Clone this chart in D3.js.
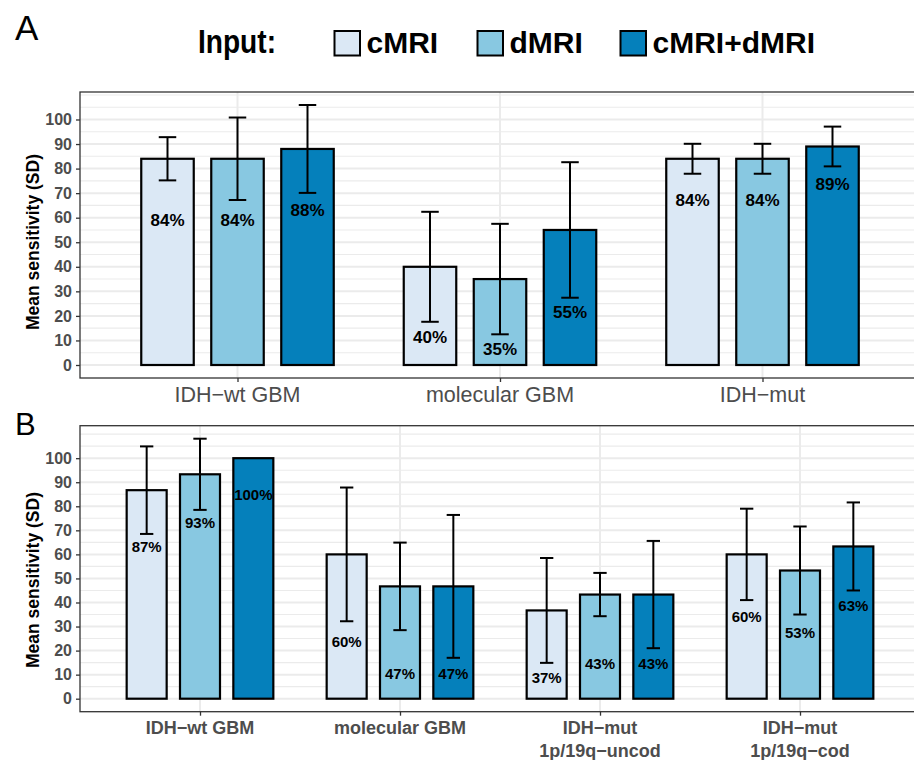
<!DOCTYPE html>
<html><head><meta charset="utf-8">
<script src="https://cdn.jsdelivr.net/npm/d3@7"></script>
<style>body{margin:0;background:#fff}svg{display:block}</style>
</head><body>
<script>
// ---------- data ----------
const inputs = ["cMRI", "dMRI", "cMRI+dMRI"];
const colors = ["#dbe8f5", "#88c8e1", "#0580bb"];

const groupsA = [["IDH−wt GBM"], ["molecular GBM"], ["IDH−mut"]];
const meanA_cMRI = [84, 40, 84];
const meanA_dMRI = [84, 35, 84];
const meanA_both = [88, 55, 89];
const sdA_cMRI = [8.8, 22.4, 6.1];
const sdA_dMRI = [16.8, 22.5, 6.1];
const sdA_both = [17.9, 27.6, 8.1];
const labelA_cMRI = [59, 11.3, 67.3];
const labelA_dMRI = [59, 6.4, 67.3];
const labelA_both = [63.2, 21.7, 73.7];

const groupsB = [["IDH−wt GBM"], ["molecular GBM"], ["IDH−mut", "1p/19q−uncod"], ["IDH−mut", "1p/19q−cod"]];
const meanB_cMRI = [86.7, 60, 36.7, 60];
const meanB_dMRI = [93.3, 46.7, 43.3, 53.3];
const meanB_both = [100, 46.7, 43.3, 63.3];
const sdB_cMRI = [18.2, 27.8, 21.8, 19.0];
const sdB_dMRI = [14.8, 18.2, 9.0, 18.3];
const sdB_both = [0, 29.7, 22.3, 18.3];
const labelB_cMRI = [63.3, 23.8, 8.6, 34.2];
const labelB_dMRI = [73.2, 10.4, 14.8, 27.5];
const labelB_both = [84.8, 10.4, 14.8, 38.8];

const yTicks = [0, 10, 20, 30, 40, 50, 60, 70, 80, 90, 100];
const yMinor = [5, 15, 25, 35, 45, 55, 65, 75, 85, 95, 105, 110];

// ---------- drawing ----------
const W = 914, H = 760;
const svg = d3.select("body").append("svg").attr("width", W).attr("height", H)
  .style("font-family", "'Liberation Sans', Arial, sans-serif");
svg.append("rect").attr("width", W).attr("height", H).attr("fill", "#fff");

function panel(cfg) {
  const {groups, means, sds, labels, top, bottom, left, right, labelSize, xFont, xWeight, xBase, xLine, letter, letterY, letterSize, titleY} = cfg;
  const n = groups.length;
  const maxV = d3.max(means.flatMap((m, s) => m.map((v, i) => v + sds[s][i])));
  const y = d3.scaleLinear().domain([-0.05 * maxV, maxV * 1.05]).range([bottom, top]);
  const x = d3.scaleLinear().domain([0.4, n + 0.6]).range([left, right]);
  const g = svg.append("g");

  // grid
  g.selectAll(".minor").data(yMinor.filter(v => v < y.domain()[1])).join("line")
    .attr("x1", left).attr("x2", right).attr("y1", d => y(d)).attr("y2", d => y(d))
    .attr("stroke", "#ebebeb").attr("stroke-width", 1.1);
  g.selectAll(".major").data(yTicks).join("line")
    .attr("x1", left).attr("x2", right).attr("y1", d => y(d)).attr("y2", d => y(d))
    .attr("stroke", "#ebebeb").attr("stroke-width", 2);
  g.selectAll(".vg").data(d3.range(1, n + 1)).join("line")
    .attr("x1", d => x(d)).attr("x2", d => x(d)).attr("y1", top).attr("y2", bottom)
    .attr("stroke", "#ebebeb").attr("stroke-width", 2);

  const dodge = 0.8 / 3, bw = 0.2, cap = 0.2 / 3;
  inputs.forEach((inp, s) => {
    means[s].forEach((v, i) => {
      const cx = (i + 1) + (s - 1) * dodge;
      g.append("rect")
        .attr("x", x(cx - bw / 2)).attr("width", x(cx + bw / 2) - x(cx - bw / 2))
        .attr("y", y(v)).attr("height", y(0) - y(v))
        .attr("fill", colors[s]).attr("stroke", "#000").attr("stroke-width", 2.2);
    });
  });
  inputs.forEach((inp, s) => {
    means[s].forEach((v, i) => {
      const cx = (i + 1) + (s - 1) * dodge;
      const sd = sds[s][i];
      if (sd > 0) {
        const eg = g.append("g").attr("stroke", "#000").attr("stroke-width", 2);
        eg.append("line").attr("x1", x(cx)).attr("x2", x(cx)).attr("y1", y(v - sd)).attr("y2", y(v + sd));
        [v - sd, v + sd].forEach(e => eg.append("line")
          .attr("x1", x(cx - cap / 2)).attr("x2", x(cx + cap / 2)).attr("y1", y(e)).attr("y2", y(e)));
      }
      g.append("text").attr("x", x(cx)).attr("y", y(labels[s][i]))
        .attr("dy", "0.36em").attr("text-anchor", "middle")
        .attr("font-weight", "bold").attr("font-size", labelSize).attr("fill", "#000")
        .text(Math.round(v) + "%");
    });
  });

  // border
  g.append("rect").attr("x", left).attr("y", top).attr("width", right - left).attr("height", bottom - top)
    .attr("fill", "none").attr("stroke", "#333").attr("stroke-width", 1.3);

  // y axis
  const ya = g.append("g").attr("transform", `translate(${left},0)`)
    .call(d3.axisLeft(y).tickValues(yTicks).tickSize(4).tickPadding(4));
  ya.select(".domain").remove();
  ya.selectAll(".tick line").attr("stroke", "#333").attr("stroke-width", 1.3);
  ya.selectAll(".tick text").attr("fill", "#4d4d4d").attr("font-size", 16).attr("font-weight", "bold")
    .attr("font-family", "'Liberation Sans', Arial, sans-serif");

  // x axis
  const xa = g.append("g").attr("transform", `translate(0,${bottom})`)
    .call(d3.axisBottom(x).tickValues(d3.range(1, n + 1)).tickSize(4).tickFormat(""));
  xa.select(".domain").remove();
  xa.selectAll(".tick line").attr("stroke", "#333").attr("stroke-width", 1.3);
  groups.forEach((lines, i) => {
    const t = g.append("text").attr("x", x(i + 1)).attr("y", xBase).attr("text-anchor", "middle")
      .attr("font-size", xFont).attr("font-weight", xWeight).attr("fill", "#4d4d4d");
    lines.forEach((l, k) => t.append("tspan").attr("x", x(i + 1)).attr("y", xBase + k * xLine).text(l));
  });

  // y title
  svg.append("text").attr("transform", `translate(39,${titleY}) rotate(-90)`)
    .attr("text-anchor", "middle").attr("font-weight", "bold").attr("font-size", 17.5)
    .attr("fill", "#000").text("Mean sensitivity (SD)");

  // panel letter
  svg.append("text").attr("x", 15).attr("y", letterY).attr("font-size", letterSize)
    .attr("fill", "#000").text(letter);
}

panel({
  groups: groupsA,
  means: [meanA_cMRI, meanA_dMRI, meanA_both],
  sds: [sdA_cMRI, sdA_dMRI, sdA_both],
  labels: [labelA_cMRI, labelA_dMRI, labelA_both],
  top: 92, bottom: 378, left: 80, right: 920, labelSize: 17,
  xFont: 21.5, xWeight: "normal", xBase: 401.5, xLine: 22,
  letter: "A", letterY: 39.5, letterSize: 35, titleY: 242
});
panel({
  groups: groupsB,
  means: [meanB_cMRI, meanB_dMRI, meanB_both],
  sds: [sdB_cMRI, sdB_dMRI, sdB_both],
  labels: [labelB_cMRI, labelB_dMRI, labelB_both],
  top: 425.7, bottom: 711.7, left: 80, right: 920, labelSize: 15,
  xFont: 18, xWeight: "bold", xBase: 734, xLine: 22.5,
  letter: "B", letterY: 435, letterSize: 31, titleY: 580
});

// legend
const lg = svg.append("g");
lg.append("text").attr("x", 198).attr("y", 52.7).attr("font-size", 34).attr("font-weight", "bold")
  .attr("textLength", 78).attr("lengthAdjust", "spacingAndGlyphs")
  .attr("fill", "#000").text("Input:");
const boxX = [334.5, 477.5, 620.5];
inputs.forEach((inp, s) => {
  lg.append("rect").attr("x", boxX[s]).attr("y", 31).attr("width", 25.5).attr("height", 24.5)
    .attr("fill", colors[s]).attr("stroke", "#000").attr("stroke-width", 2);
  lg.append("text").attr("x", boxX[s] + 32).attr("y", 53.3).attr("font-size", 30)
    .attr("font-weight", "bold").attr("fill", "#000").text(inp);
});
</script>
</body></html>
